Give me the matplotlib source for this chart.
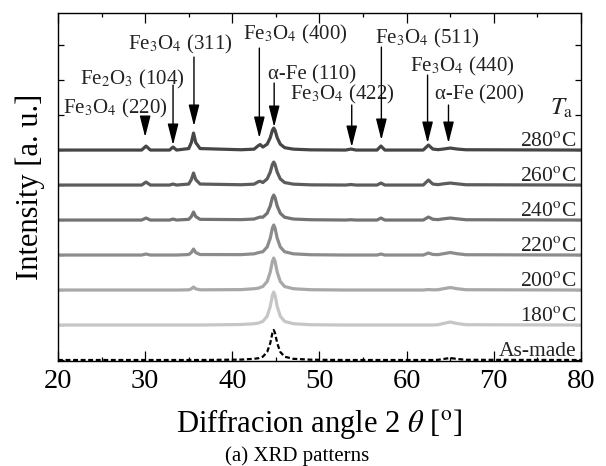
import matplotlib
matplotlib.use("Agg")
import matplotlib.pyplot as plt
from matplotlib.ticker import MultipleLocator

plt.rcParams['font.family'] = ['Liberation Serif', 'DejaVu Serif']
plt.rcParams['mathtext.fontset'] = 'stix'

# ---------------- data ----------------
angles = [20.0, 29.6, 30.1, 30.6, 32.8, 33.2, 33.6, 35.0, 35.3, 35.55, 35.8, 36.3,
          41.0, 42.5, 43.0, 43.2, 43.5, 44.0, 44.35, 44.6, 44.75, 44.9, 45.15, 45.5,
          46.0, 47.0, 49.0, 53.0, 53.6, 54.2, 56.6, 57.05, 57.5, 61.9, 62.5, 63.0,
          63.6, 64.2, 65.0, 65.8, 66.8, 80.0]

labels = ['As-made', '180$^{\\rm o}$C', '200$^{\\rm o}$C', '220$^{\\rm o}$C',
          '240$^{\\rm o}$C', '260$^{\\rm o}$C', '280$^{\\rm o}$C']
offsets = [0, 35, 70, 105, 140, 175, 210]

i_asmade = [0, 0, 0, 0, 0, 0, 0, 0, 0, 0, 0, 0,
            0.4, 1.2, 1.8, 2.4, 3.3, 8.1, 16.8, 27, 30, 27, 16.8, 8.1,
            3.3, 1.2, 0.3, 0, 0, 0, 0, 0, 0, 0, 0, 0,
            0.2, 1.0, 2.0, 1.0, 0.2, 0]
i_180 = [0, 0, 0, 0, 0, 0, 0, 0, 0, 0, 0, 0,
         0.5, 1.3, 2.0, 2.6, 3.6, 8.9, 18.5, 29.7, 33, 29.7, 18.5, 8.9,
         3.6, 1.3, 0.3, 0, 0, 0, 0, 0, 0, 0, 0, 0,
         0.3, 1.5, 3.0, 1.5, 0.3, 0]
i_200 = [0, 0, 0, 0, 0, 0, 0, 0.2, 1.2, 3.0, 1.2, 0.2,
         0.4, 1.3, 1.9, 2.6, 3.5, 8.6, 17.9, 28.8, 32, 28.8, 17.9, 8.6,
         3.5, 1.3, 0.3, 0, 0, 0, 0, 0, 0, 0, 0.5, 0.2,
         0.3, 1.3, 2.5, 1.3, 0.3, 0]
i_220 = [0, 0, 1.0, 0, 0, 0, 0, 0.5, 2.5, 6.0, 2.5, 0.5,
         0.4, 1.2, 2.4, 2.8, 3.3, 8.1, 16.8, 27, 30, 27, 16.8, 8.1,
         3.3, 1.2, 0.3, 0, 0, 0, 0, 1.0, 0, 0, 2.0, 0.6,
         0.4, 1.3, 2.5, 1.3, 0.3, 0]
i_240 = [0, 0, 2.0, 0, 0, 1.0, 0, 0.7, 3.5, 8.0, 3.5, 0.7,
         0.4, 1.0, 2.5, 3.0, 2.8, 6.8, 14, 22.5, 25, 22.5, 14, 6.8,
         2.8, 1.0, 0.3, 0, 0.3, 0, 0, 2.0, 0, 0, 3.0, 0.8,
         0.4, 1.2, 2.0, 1.2, 0.3, 0]
i_260 = [0, 0, 3.0, 0, 0, 1.0, 0, 1.0, 5.5, 12.0, 5.5, 1.0,
         0.3, 0.9, 3.4, 3.8, 2.5, 6.2, 12.9, 20.7, 23, 20.7, 12.9, 6.2,
         2.5, 0.9, 0.2, 0, 0.5, 0, 0, 2.0, 0, 0, 5.0, 1.0,
         0.4, 1.2, 2.0, 1.2, 0.3, 0]
i_280 = [0, 0, 4.0, 0, 0, 3.0, 0, 1.5, 7.5, 17.0, 7.5, 1.5,
         0.3, 0.9, 4.5, 5.5, 3.0, 5.9, 12.3, 19.8, 22, 19.8, 12.3, 5.9,
         2.4, 0.9, 0.2, 0, 1.0, 0, 0, 4.0, 0, 0, 5.0, 1.0,
         0.4, 1.0, 2.0, 1.0, 0.3, 0]
intensities = [i_asmade, i_180, i_200, i_220, i_240, i_260, i_280]
colors = ['black', '#c6c6c6', '#a8a8a8', '#8c8c8c', '#737373', '#5c5c5c', '#464646']

# peak annotations: text, text x, text baseline y, arrow x, arrow tail y, arrow tip y
peak_texts = ['Fe$_3$O$_4$ (220)', 'Fe$_2$O$_3$ (104)', 'Fe$_3$O$_4$ (311)',
              'Fe$_3$O$_4$ (400)', 'α-Fe (110)', 'Fe$_3$O$_4$ (422)',
              'Fe$_3$O$_4$ (511)', 'Fe$_3$O$_4$ (440)', 'α-Fe (200)']
text_x = [20.55, 22.5, 28.0, 41.2, 44.1, 46.6, 56.4, 60.4, 63.2]
text_y = [247, 276, 311, 321, 281, 261, 317, 289, 261]
arrow_x = [30.0, 33.2, 35.6, 43.1, 44.8, 53.7, 57.1, 62.4, 64.8]
arrow_tail = [242, 275, 303, 312, 277, 255, 313, 285, 255]
arrow_tip = [223, 215, 234, 222, 233, 213, 220, 217, 217]

# ---------------- figure ----------------
fig = plt.figure(figsize=(6.06, 4.66), dpi=100)
ax = fig.add_axes([0.0957, 0.2253, 0.863, 0.7477])

for lab, off, inten, col in zip(labels, offsets, intensities, colors):
    y = [off + v for v in inten]
    if lab == 'As-made':
        ax.plot(angles, y, color=col, lw=1.6, ls=(0, (2.2, 1.2)))
    else:
        ax.plot(angles, y, color=col, lw=2.3, solid_capstyle='butt')
    ax.text(79.5, off + 4, lab, ha='right', va='baseline', fontsize=15.5, color='#222222')

ax.text(79.1, 245, '$T_{\\rm a}$', ha='right', va='baseline', fontsize=18, color='#222222')

for t, tx, ty, axx, at, ap in zip(peak_texts, text_x, text_y, arrow_x, arrow_tail, arrow_tip):
    ax.text(tx, ty, t, ha='left', va='baseline', fontsize=15, color='#222222')
    ax.annotate('', xy=(axx, ap), xytext=(axx, at),
                arrowprops=dict(arrowstyle='-|>,head_length=1.3,head_width=0.33',
                                mutation_scale=10, lw=1.0, color='black',
                                shrinkA=0, shrinkB=0))

ax.set_xlim(20, 80)
ax.set_ylim(-1, 347.5)
ax.xaxis.set_major_locator(MultipleLocator(10))
ax.xaxis.set_minor_locator(MultipleLocator(5))
ax.yaxis.set_major_locator(MultipleLocator(35))
ax.set_yticklabels([])
ax.tick_params(axis='x', which='major', direction='in', length=7, width=0.9,
               top=True, labelsize=20.5, pad=6)
ax.tick_params(axis='x', which='minor', direction='in', length=3, width=0.9, top=True)
ax.tick_params(axis='y', which='major', direction='in', length=4, width=0.9,
               right=True, left=True)
for s in ax.spines.values():
    s.set_linewidth(1.0)

ax.set_xlabel('Diffracion angle 2 $\\theta$ [$^{\\rm o}$]', fontsize=22, labelpad=9)
ax.set_ylabel('Intensity [a. u.]', fontsize=22, labelpad=6)

fig.text(0.49, 0.021, '(a) XRD patterns', ha='center', va='center', fontsize=15)

fig.savefig('out.png', dpi=100)
